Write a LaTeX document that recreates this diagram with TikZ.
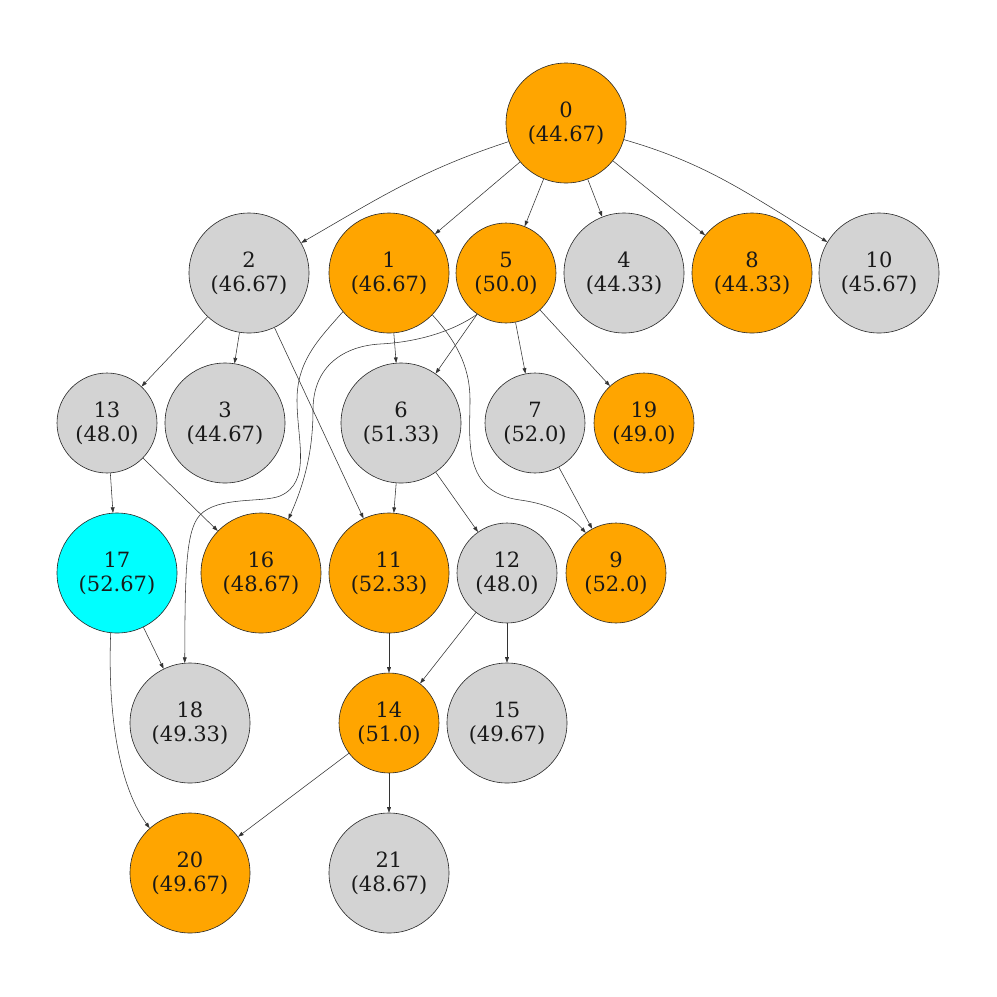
\documentclass[tikz,border=0pt]{standalone}
\usepackage{fontspec}
\setmainfont{DejaVu Serif}
\usetikzlibrary{arrows.meta}
\definecolor{gvorange}{HTML}{FFA500}
\definecolor{gvgray}{HTML}{D3D3D3}
\definecolor{gvcyan}{HTML}{00FFFF}
\tikzset{
  nd/.style={circle, draw=black!85, line width=0.6pt, inner sep=0pt, align=center,
    font=\fontsize{21}{24}\selectfont, text=black!90},
  big/.style={nd, minimum size=120pt},
  small/.style={nd, minimum size=100pt},
  org/.style={fill=gvorange},
  gry/.style={fill=gvgray},
  cyn/.style={fill=gvcyan},
  e/.style={draw=black!80, line width=0.55pt, -{Triangle[length=5.5pt,width=3.8pt]}}
}
\begin{document}
\begin{tikzpicture}[x=1pt,y=1pt]
\useasboundingbox (0,0) rectangle (997,-997);
\fill[white] (0,0) rectangle (997,-997);
% row 0
\node[big,org] (n0) at (566,-123) {0\\(44.67)};
% row 1
\node[big,gry] (n2) at (249,-273) {2\\(46.67)};
\node[big,org] (n1) at (389,-273) {1\\(46.67)};
\node[small,org] (n5) at (506,-273) {5\\(50.0)};
\node[big,gry] (n4) at (624,-273) {4\\(44.33)};
\node[big,org] (n8) at (752,-273) {8\\(44.33)};
\node[big,gry] (n10) at (879,-273) {10\\(45.67)};
% row 2
\node[small,gry] (n13) at (107,-423) {13\\(48.0)};
\node[big,gry] (n3) at (225,-423) {3\\(44.67)};
\node[big,gry] (n6) at (401,-423) {6\\(51.33)};
\node[small,gry] (n7) at (535,-423) {7\\(52.0)};
\node[small,org] (n19) at (644,-423) {19\\(49.0)};
% row 3
\node[big,cyn] (n17) at (117,-573) {17\\(52.67)};
\node[big,org] (n16) at (261,-573) {16\\(48.67)};
\node[big,org] (n11) at (389,-573) {11\\(52.33)};
\node[small,gry] (n12) at (507,-573) {12\\(48.0)};
\node[small,org] (n9) at (616,-573) {9\\(52.0)};
% row 4
\node[big,gry] (n18) at (190,-723) {18\\(49.33)};
\node[small,org] (n14) at (389,-723) {14\\(51.0)};
\node[big,gry] (n15) at (507,-723) {15\\(49.67)};
% row 5
\node[big,org] (n20) at (190,-873) {20\\(49.67)};
\node[big,gry] (n21) at (389,-873) {21\\(48.67)};

% edges from 0
\draw[e] (n0) to[out=198,in=30] (n2);
\draw[e] (n0) -- (n1);
\draw[e] (n0) -- (n5);
\draw[e] (n0) -- (n4);
\draw[e] (n0) -- (n8);
\draw[e] (n0) to[out=-16,in=149] (n10);
% from 2
\draw[e] (n2) -- (n13);
\draw[e] (n2) -- (n3);
\draw[e] (n2) -- (n11);
% from 1
\draw[e] (n1) -- (n6);
\draw[e] (n1.220) .. controls (320,-338) and (297,-360) .. (297,-400)
  .. controls (297,-440) and (312,-482) .. (280,-496)
  .. controls (262,-503) and (218,-496) .. (200,-515)
  .. controls (186,-530) and (185,-570) .. (n18.95);
\draw[e] (n1.-44) .. controls (455,-340) and (470,-365) .. (470,-400)
  .. controls (470,-440) and (462,-492) .. (520,-500)
  .. controls (550,-504) and (570,-515) .. (n9.127);
% from 5
\draw[e] (n5) -- (n6);
\draw[e] (n5) -- (n7);
\draw[e] (n5) -- (n19);
\draw[e] (n5.235) .. controls (455,-330) and (420,-342) .. (380,-344)
  .. controls (345,-346) and (313,-365) .. (313,-410)
  .. controls (313,-450) and (305,-482) .. (n16.63);
% from 13
\draw[e] (n13) -- (n17);
\draw[e] (n13) -- (n16);
% from 6
\draw[e] (n6) -- (n11);
\draw[e] (n6) -- (n12);
% from 7
\draw[e] (n7) -- (n9);
% from 17
\draw[e] (n17) -- (n18);
\draw[e] (n17.-96) .. controls (108,-700) and (115,-780) .. (n20.132);
% from 11
\draw[e] (n11) -- (n14);
% from 12
\draw[e] (n12) -- (n14);
\draw[e] (n12) -- (n15);
% from 14
\draw[e] (n14) -- (n20);
\draw[e] (n14) -- (n21);
\end{tikzpicture}
\end{document}
